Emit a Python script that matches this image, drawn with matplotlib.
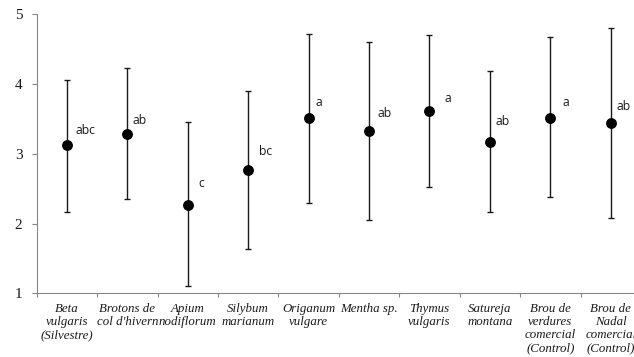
import matplotlib
matplotlib.use('Agg')
import matplotlib.pyplot as plt
import numpy as np

# Data
species = ['Beta\nvulgaris\n(Silvestre)', 'Brotons de\ncol d\'hivern', 'Apium\nnodiflorum',
           'Silybum\nmarianum', 'Origanum\nvulgare', 'Mentha sp.', 'Thymus\nvulgaris',
           'Satureja\nmontana', 'Brou de\nverdures\ncomercial\n(Control)',
           'Brou de\nNadal\ncomercial\n(Control)']
means = [3.12, 3.29, 2.27, 2.77, 3.51, 3.33, 3.61, 3.17, 3.52, 3.44]
upper = [4.06, 4.23, 3.45, 3.90, 4.72, 4.61, 4.71, 4.18, 4.67, 4.80]
lower = [2.17, 2.35, 1.10, 1.64, 2.30, 2.05, 2.53, 2.17, 2.38, 2.08]
groups = ['abc', 'ab', 'c', 'bc', 'a', 'ab', 'a', 'ab', 'a', 'ab']

# label nudges (pixels right, pixels up)
label_offsets = [(9, 15), (5, 13), (11, 21), (11, 18), (7, 16),
                 (8, 17), (15, 13), (6, 20), (12, 15), (6, 17)]

axis_grey = '#868686'
text_col = '#1a1a1a'

fig = plt.figure(figsize=(6.34, 3.57), dpi=100)
ax = fig.add_axes([36.7 / 634, 1 - 293.3 / 357, (641 - 36.7) / 634, (293.3 - 14.3) / 357])

x = np.arange(1, len(means) + 1)
means_arr = np.array(means)
err = [means_arr - np.array(lower), np.array(upper) - means_arr]
ax.errorbar(x, means, yerr=err, fmt='o', color='black', ecolor='#1a1a1a',
            markersize=6.8, elinewidth=1.0, capsize=2.4, capthick=1.0, zorder=3)

for xi, m, g, (dx, dy) in zip(x, means, groups, label_offsets):
    ax.annotate(g, (xi, m), xytext=(dx, dy), textcoords='offset pixels',
                ha='left', va='center', fontsize=8.7, family='Open Sans', color=text_col)

ax.set_xlim(0.5, len(means) + 0.5)
ax.set_ylim(1, 5)

# category boundaries as ticks, names centred between them
ax.set_xticks(np.arange(0.5, len(means) + 1, 1))
ax.set_xticklabels([])
ax.set_xticks(x, minor=True)
ax.set_xticklabels(species, minor=True, fontstyle='italic', fontsize=9.3,
                   family='Liberation Serif', linespacing=1.12, color=text_col)
ax.tick_params(axis='x', which='major', length=2.8, color=axis_grey, width=0.8)
ax.tick_params(axis='x', which='minor', length=0, pad=7)

ax.set_yticks([1, 2, 3, 4, 5])
ax.tick_params(axis='y', length=3.3, color=axis_grey, width=0.8, pad=7)
for lab in ax.get_yticklabels():
    lab.set_family('Liberation Serif')
    lab.set_fontsize(11)
    lab.set_color(text_col)

for side in ['top', 'right']:
    ax.spines[side].set_visible(False)
for side in ['left', 'bottom']:
    ax.spines[side].set_color(axis_grey)
    ax.spines[side].set_linewidth(0.8)

fig.savefig('out.png', dpi=100)
